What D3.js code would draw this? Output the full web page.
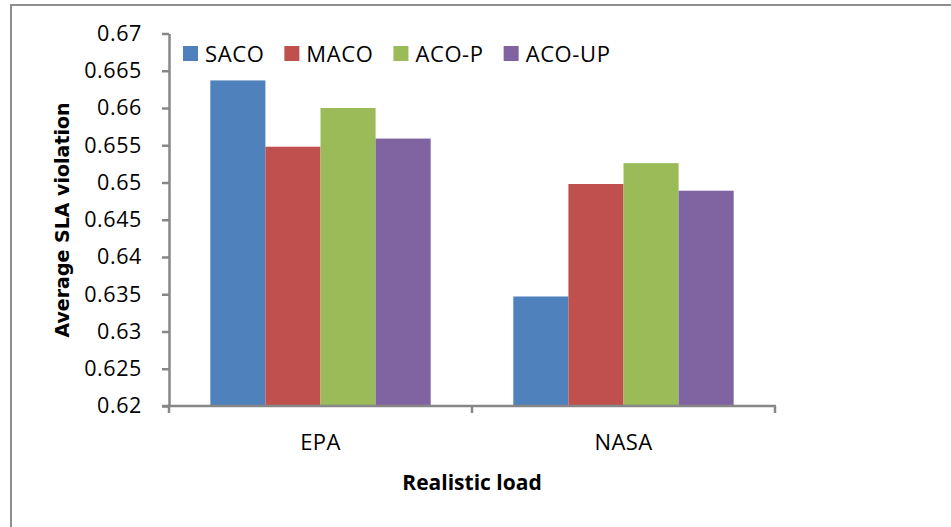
<!DOCTYPE html>
<html>
<head>
<meta charset="utf-8">
<script src="https://cdn.jsdelivr.net/npm/d3@7"></script>
<style>
  html, body { margin: 0; padding: 0; background: #fff; }
  svg { display: block; }
</style>
</head>
<body>
<svg id="chart" width="951" height="527"></svg>
<script>
// Average SLA violation per realistic workload, for each algorithm
const categories = ["EPA", "NASA"];
const seriesNames = ["SACO", "MACO", "ACO-P", "ACO-UP"];
const sacoValues  = [0.6637, 0.6347];
const macoValues  = [0.6548, 0.6498];
const acoPValues  = [0.6600, 0.6526];
const acoUpValues = [0.6559, 0.6489];
const yTicks = [0.62, 0.625, 0.63, 0.635, 0.64, 0.645, 0.65, 0.655, 0.66, 0.665, 0.67];
const yTickLabels = ["0.62", "0.625", "0.63", "0.635", "0.64", "0.645", "0.65", "0.655", "0.66", "0.665", "0.67"];
const seriesColors = ["#4F81BD", "#C0504D", "#9BBB59", "#8064A2"];

const seriesValues = [sacoValues, macoValues, acoPValues, acoUpValues];

const svg = d3.select("#chart");
const W = 951, H = 527;
const axisColor = "#878787";
const tickFont = "'Open Sans', sans-serif";

// outer chart-area frame (runs past the right and bottom edges)
svg.append("rect")
  .attr("x", 11).attr("y", 5)
  .attr("width", W + 20).attr("height", H + 20)
  .attr("fill", "none")
  .attr("stroke", "#8e8e8e")
  .attr("stroke-width", 2);

const plot = { left: 169, right: 775, top: 33.5, bottom: 406 };

const y = d3.scaleLinear().domain([0.62, 0.67]).range([plot.bottom, plot.top]);
const x0 = d3.scaleBand().domain(categories).range([plot.left, plot.right]).padding(0);
const x1 = d3.scaleBand().domain(seriesNames).range([0, x0.bandwidth()])
  .paddingInner(0).paddingOuter(0.75);

// bars
const groups = svg.append("g").selectAll("g")
  .data(categories)
  .join("g")
  .attr("transform", d => `translate(${x0(d)},0)`);

groups.selectAll("rect")
  .data((c, ci) => seriesNames.map((s, si) => ({ s, si, v: seriesValues[si][ci] })))
  .join("rect")
  .attr("x", d => x1(d.s))
  .attr("width", x1.bandwidth())
  .attr("y", d => y(d.v))
  .attr("height", d => y(0.62) - y(d.v))
  .attr("fill", d => seriesColors[d.si]);

// y axis
const yAxis = d3.axisLeft(y)
  .tickValues(yTicks)
  .tickFormat((d, i) => yTickLabels[i])
  .tickSize(7)
  .tickSizeOuter(0)
  .tickPadding(20);

const gy = svg.append("g")
  .attr("transform", `translate(${plot.left},0)`)
  .call(yAxis);
gy.select(".domain").attr("stroke", axisColor).attr("stroke-width", 2.5);
gy.selectAll(".tick line").attr("stroke", axisColor).attr("stroke-width", 2.5);
gy.selectAll(".tick text")
  .attr("font-family", tickFont)
  .attr("font-size", 21.5)
  .attr("letter-spacing", 0.6)
  .attr("fill", "#000");

// x axis: category boundaries carry the tick marks
const gx = svg.append("g").attr("transform", `translate(0,${plot.bottom})`);
gx.append("line")
  .attr("x1", plot.left - 7).attr("x2", plot.right + 1)
  .attr("stroke", axisColor).attr("stroke-width", 2.5);
const boundaries = categories.map(c => x0(c)).concat([x0(categories[categories.length - 1]) + x0.bandwidth()]);
gx.selectAll("line.tick")
  .data(boundaries)
  .join("line")
  .attr("class", "tick")
  .attr("x1", d => d).attr("x2", d => d)
  .attr("y1", 0).attr("y2", 7)
  .attr("stroke", axisColor).attr("stroke-width", 2.5);
gx.selectAll("text")
  .data(categories)
  .join("text")
  .attr("x", d => x0(d) + x0.bandwidth() / 2)
  .attr("y", 44)
  .attr("text-anchor", "middle")
  .attr("font-family", tickFont)
  .attr("font-size", 22)
  .attr("letter-spacing", 0.4)
  .attr("fill", "#000")
  .text(d => d);

// axis titles
svg.append("text")
  .attr("x", (plot.left + plot.right) / 2)
  .attr("y", 490)
  .attr("text-anchor", "middle")
  .attr("font-family", tickFont)
  .attr("font-weight", "bold")
  .attr("font-size", 21)
  .attr("fill", "#000")
  .text("Realistic load");

svg.append("text")
  .attr("transform", "translate(69,220) rotate(-90)")
  .attr("text-anchor", "middle")
  .attr("font-family", "'DejaVu Sans', sans-serif")
  .attr("font-weight", "bold")
  .attr("font-size", 19)
  .attr("fill", "#000")
  .text("Average SLA violation");

// legend
const legend = svg.append("g").attr("transform", "translate(183,46)");
let lx = 0;
seriesNames.forEach((name, i) => {
  const item = legend.append("g").attr("transform", `translate(${lx},0)`);
  item.append("rect")
    .attr("width", 15).attr("height", 15)
    .attr("fill", seriesColors[i]);
  const t = item.append("text")
    .attr("x", 22).attr("y", 16)
    .attr("font-family", tickFont)
    .attr("font-size", 22)
    .attr("letter-spacing", 0.6)
    .attr("fill", "#000")
    .text(name);
  lx += 22 + t.node().getComputedTextLength() + 20;
});
</script>
</body>
</html>
